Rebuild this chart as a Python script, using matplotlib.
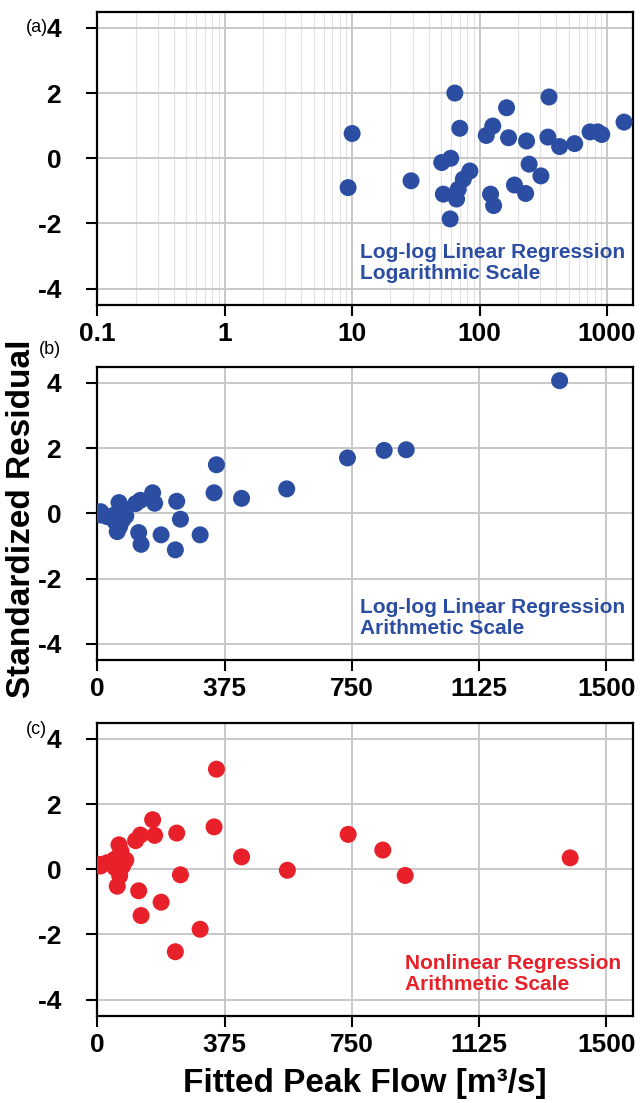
import matplotlib
matplotlib.use("Agg")
import matplotlib.pyplot as plt
from matplotlib.ticker import LogLocator, NullFormatter

# fitted peak flow (m3/s), log-log linear model
flow_loglog = [9.3, 10.0, 29, 50.5, 52, 58.8, 59.4, 64, 66, 68, 70, 74.6, 84,
               113, 122, 127, 129, 163, 169, 188, 230, 234, 245, 303,
               344, 351, 425, 558, 737, 845, 910, 1362]
# fitted peak flow (m3/s), nonlinear model
flow_nonlin = [9.3, 10.0, 29, 50.5, 52, 58.8, 59.4, 64, 66, 68, 70, 74.6, 84,
               113, 122, 127, 129, 163, 169, 188, 230, 234, 245, 303,
               344, 351, 425, 560, 739, 841, 907, 1393]

# standardized residuals
resid_a = [-0.90, 0.76, -0.69, -0.13, -1.10, -1.86, 0.00, 2.00, -1.25, -0.95, 0.92, -0.64, -0.39,
           0.70, -1.10, 0.99, -1.45, 1.55, 0.63, -0.82, -1.08, 0.53, -0.18, -0.54,
           0.65, 1.88, 0.36, 0.45, 0.81, 0.81, 0.73, 1.11]
resid_b = [-0.05, 0.05, -0.10, -0.05, -0.25, -0.56, 0.00, 0.33, -0.40, -0.30, 0.20, -0.20, -0.08,
           0.30, -0.59, 0.40, -0.95, 0.63, 0.31, -0.66, -1.12, 0.37, -0.18, -0.66,
           0.63, 1.49, 0.46, 0.75, 1.70, 1.93, 1.95, 4.07]
resid_c = [0.10, 0.15, 0.20, 0.30, 0.05, -0.52, 0.35, 0.75, -0.20, 0.00, 0.55, 0.10, 0.28,
           0.88, -0.66, 1.05, -1.42, 1.52, 1.04, -1.01, -2.53, 1.11, -0.17, -1.84,
           1.30, 3.07, 0.38, -0.03, 1.07, 0.59, -0.19, 0.35]

log_ticks = [0.1, 1, 10, 100, 1000]
log_ticklabels = ["0.1", "1", "10", "100", "1000"]
lin_ticks = [0, 375, 750, 1125, 1500]
y_ticks = [-4, -2, 0, 2, 4]

BLUE = "#2b4ea2"
RED = "#e8202a"
GRID = "#c8c8c8"
SANS = ["Liberation Sans", "DejaVu Sans"]

plt.rcParams["font.family"] = SANS

W, H = 640, 1103
fig = plt.figure(figsize=(W / 100, H / 100), dpi=100)
left, width, height = 0.152, 0.837, 0.266
ax_a = fig.add_axes([left, 0.7235, width, height])
ax_b = fig.add_axes([left, 0.4016, width, height])
ax_c = fig.add_axes([left, 0.0789, width, height])


def style(ax):
    ax.set_ylim(-4.5, 4.5)
    ax.set_yticks(y_ticks)
    ax.set_yticklabels([str(v) for v in y_ticks])
    ax.tick_params(axis="both", which="major", direction="out", length=8, width=1.5,
                   labelsize=19, top=False, right=False)
    ax.tick_params(axis="y", pad=18)
    ax.tick_params(axis="x", pad=4)
    for lab in ax.get_xticklabels() + ax.get_yticklabels():
        lab.set_fontweight("bold")
    for sp in ax.spines.values():
        sp.set_linewidth(1.6)
    ax.set_axisbelow(True)
    ax.grid(True, which="major", color=GRID, linewidth=1.4)


def note(ax, x, text, color):
    ax.text(x, 0.143, text, transform=ax.transAxes, color=color, fontsize=15,
            fontweight="bold", ha="left", va="center", linespacing=1.1)


# (a) log scale
ax_a.scatter(flow_loglog, resid_a, s=150, color=BLUE, edgecolors="none", zorder=3)
ax_a.set_xscale("log")
ax_a.set_xlim(0.1, 1600)
ax_a.set_xticks(log_ticks)
ax_a.set_xticklabels(log_ticklabels)
ax_a.xaxis.set_minor_locator(LogLocator(base=10, subs=range(2, 10)))
ax_a.xaxis.set_minor_formatter(NullFormatter())
ax_a.tick_params(axis="x", which="minor", length=0)
style(ax_a)
ax_a.grid(True, which="minor", axis="x", color="#e2e2e2", linewidth=0.8)
note(ax_a, 0.49, "Log-log Linear Regression\nLogarithmic Scale", BLUE)

# (b) arithmetic scale, log-log model
ax_b.scatter(flow_loglog, resid_b, s=150, color=BLUE, edgecolors="none", zorder=3)
ax_b.set_xlim(0, 1578)
ax_b.set_xticks(lin_ticks)
ax_b.set_xticklabels([str(v) for v in lin_ticks])
style(ax_b)
note(ax_b, 0.49, "Log-log Linear Regression\nArithmetic Scale", BLUE)

# (c) arithmetic scale, nonlinear model
ax_c.scatter(flow_nonlin, resid_c, s=150, color=RED, edgecolors="none", zorder=3)
ax_c.set_xlim(0, 1578)
ax_c.set_xticks(lin_ticks)
ax_c.set_xticklabels([str(v) for v in lin_ticks])
style(ax_c)
note(ax_c, 0.575, "Nonlinear Regression\nArithmetic Scale", RED)

# panel letters (pixel positions from top-left)
for lab, px, py in [("(a)", 26, 19), ("(b)", 39, 341), ("(c)", 26, 721)]:
    fig.text(px / W, 1 - py / H, lab, fontsize=13, ha="left", va="top")

fig.text(0.033, 0.53, "Standardized Residual", rotation=90, ha="center", va="center",
         fontsize=24, fontweight="bold")
fig.text(0.57, 0.004, "Fitted Peak Flow [m\u00b3/s]", ha="center", va="bottom",
         fontsize=24, fontweight="bold")

fig.savefig("out.png", dpi=100)
